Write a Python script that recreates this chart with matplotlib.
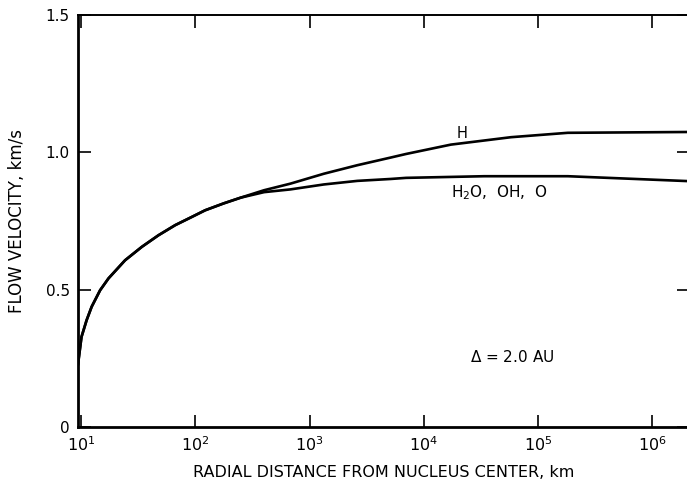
import matplotlib
matplotlib.use("Agg")
import matplotlib.pyplot as plt
import numpy as np

# shared branch (km, km/s)
r_common = [9.4, 9.6, 10.1, 11.2, 12.4, 14.7, 17.4, 24.3, 34.1, 47.6, 66.8, 93.5, 122, 177, 250]
v_common = [0.225, 0.256, 0.328, 0.389, 0.438, 0.498, 0.541, 0.607, 0.656, 0.698, 0.735, 0.765, 0.789, 0.814, 0.835]

# H branch
r_h = [400, 681, 1334, 2617, 5140, 7000, 17250, 57900, 182000, 2.1e6]
v_h = [0.862, 0.886, 0.922, 0.953, 0.981, 0.994, 1.028, 1.055, 1.071, 1.074]

# H2O, OH, O branch
r_o = [400, 681, 1334, 2617, 5140, 7000, 33800, 182000, 2.1e6]
v_o = [0.855, 0.865, 0.883, 0.896, 0.903, 0.907, 0.913, 0.913, 0.895]

xticks = [1e1, 1e2, 1e3, 1e4, 1e5, 1e6]
xticklabels = [r"$10^{%d}$" % i for i in range(1, 7)]
yticks = [0, 0.5, 1.0, 1.5]
yticklabels = ["0", "0.5", "1.0", "1.5"]

oplot = {"color": "black", "linewidth": 1.9, "solid_capstyle": "round", "solid_joinstyle": "round"}

fig = plt.figure(figsize=(6.87, 4.82), dpi=100)
ax = fig.add_axes([0.1135, 0.114, 0.89, 0.855])
ax.set_xscale("log")

ax.plot(r_common + r_h, v_common + v_h, **oplot)
ax.plot(r_common + r_o, v_common + v_o, **oplot)

ax.set_xlim(9.41, 2.11e6)
ax.set_ylim(0, 1.5)
ax.set_xticks(xticks)
ax.set_xticklabels(xticklabels, fontsize=11.5)
ax.set_yticks(yticks)
ax.set_yticklabels(yticklabels, fontsize=11)
ax.minorticks_off()
ax.tick_params(direction="in", length=9, width=1.2, top=True, right=True, pad=6)

for s in ["left", "bottom"]:
    ax.spines[s].set_linewidth(2.0)
ax.spines["top"].set_linewidth(1.4)
ax.spines["right"].set_visible(False)

ax.set_xlabel("RADIAL DISTANCE FROM NUCLEUS CENTER, km", fontsize=11.5, labelpad=8)
ax.set_ylabel("FLOW VELOCITY, km/s", fontsize=12, labelpad=14)

ax.text(21500, 1.051, "H", fontsize=10.5, ha="center", va="baseline")
ax.text(17250, 0.836, r"H$_2$O,  OH,  O", fontsize=11, ha="left", va="baseline")
ax.text(0.71, 0.17, r"$\Delta$ = 2.0 AU", fontsize=11, ha="center", va="center", transform=ax.transAxes)

fig.savefig("out.png", dpi=100)
